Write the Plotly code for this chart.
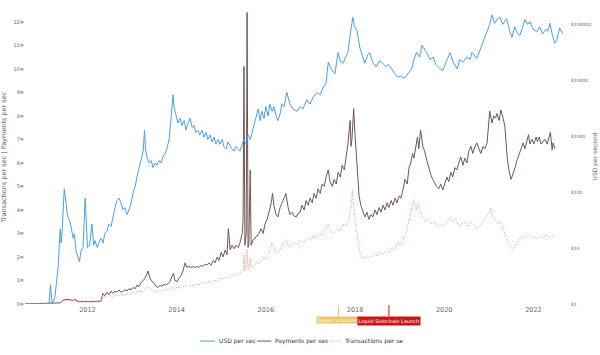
import plotly.graph_objects as go

# ---------------- data ----------------
usd_years = [2010.53, 2010.83, 2011.14, 2011.17, 2011.21, 2011.27, 2011.34, 2011.39, 2011.41, 2011.43,
             2011.48, 2011.52, 2011.55, 2011.59, 2011.62, 2011.68, 2011.71, 2011.74, 2011.79, 2011.82,
             2011.86, 2011.90, 2011.95, 2011.97, 2012.00, 2012.05, 2012.08, 2012.10, 2012.14, 2012.17,
             2012.22, 2012.26, 2012.30, 2012.35, 2012.39, 2012.44, 2012.48, 2012.53, 2012.57, 2012.62,
             2012.66, 2012.71, 2012.75, 2012.80, 2012.84, 2012.89, 2012.93, 2012.98, 2013.02, 2013.07,
             2013.11, 2013.16, 2013.20, 2013.25, 2013.28, 2013.30, 2013.34, 2013.38, 2013.43, 2013.47,
             2013.52, 2013.56, 2013.61, 2013.65, 2013.70, 2013.74, 2013.78, 2013.83, 2013.87, 2013.92,
             2013.94, 2013.99, 2014.03, 2014.08, 2014.12, 2014.17, 2014.21, 2014.26, 2014.30, 2014.35,
             2014.39, 2014.43, 2014.48, 2014.52, 2014.57, 2014.61, 2014.66, 2014.70, 2014.75, 2014.79,
             2014.84, 2014.88, 2014.93, 2014.97, 2015.02, 2015.06, 2015.11, 2015.15, 2015.20, 2015.24,
             2015.29, 2015.33, 2015.38, 2015.42, 2015.47, 2015.51, 2015.56, 2015.60, 2015.65, 2015.69,
             2015.74, 2015.78, 2015.83, 2015.87, 2015.91, 2015.96, 2016.00, 2016.05, 2016.09, 2016.14,
             2016.18, 2016.23, 2016.27, 2016.32, 2016.36, 2016.41, 2016.47, 2016.54, 2016.61, 2016.70,
             2016.77, 2016.83, 2016.92, 2016.99, 2017.06, 2017.15, 2017.22, 2017.28, 2017.35, 2017.40,
             2017.46, 2017.55, 2017.62, 2017.68, 2017.73, 2017.79, 2017.84, 2017.88, 2017.95, 2017.99,
             2018.04, 2018.11, 2018.17, 2018.22, 2018.28, 2018.33, 2018.39, 2018.48, 2018.55, 2018.62,
             2018.69, 2018.75, 2018.82, 2018.89, 2018.96, 2019.02, 2019.11, 2019.18, 2019.27, 2019.32,
             2019.38, 2019.45, 2019.50, 2019.57, 2019.61, 2019.68, 2019.75, 2019.81, 2019.91, 2019.97,
             2020.04, 2020.13, 2020.20, 2020.29, 2020.35, 2020.42, 2020.51, 2020.58, 2020.62, 2020.69,
             2020.73, 2020.80, 2020.87, 2020.93, 2020.98, 2021.02, 2021.07, 2021.13, 2021.20, 2021.25,
             2021.31, 2021.40, 2021.47, 2021.52, 2021.58, 2021.65, 2021.70, 2021.76, 2021.81, 2021.87,
             2021.92, 2021.99, 2022.08, 2022.14, 2022.21, 2022.28, 2022.32, 2022.37, 2022.43, 2022.48,
             2022.52, 2022.59, 2022.66]
usd_per_sec = [1.0, 1.0, 1.0, 2.2, 1.0, 1.3, 4.3, 22, 12.3, 18,
               114, 64, 39, 32, 27, 15, 18, 9.2, 6.9, 5.7,
               9.2, 10.2, 78, 32, 10.2, 11.2, 18, 27, 11.2, 13.6,
               10.2, 12.3, 15, 12.3, 18.2, 20, 26.7, 24.3, 35.7, 52.5,
               70, 78, 64, 48, 52.5, 39.4, 48, 64, 94, 126,
               185, 272, 400, 537, 1274, 589, 400, 331, 365, 272,
               331, 300, 365, 331, 440, 485, 589, 870, 1876, 5430,
               3350, 2275, 1700, 2065, 1545, 1876, 1274, 1700, 2065, 1413,
               1545, 1156, 1274, 1050, 1274, 953, 1156, 870, 1050, 785,
               953, 713, 870, 713, 870, 648, 589, 785, 648, 589,
               537, 648, 589, 537, 713, 870, 713, 1050, 870, 1156,
               1545, 2275, 3040, 1876, 2760, 2065, 3350, 2275, 3715, 2760,
               3350, 2275, 1876, 2506, 3715, 3350, 6025, 3715, 3040, 2760,
               3350, 3040, 4470, 3715, 4920, 6025, 5430, 7250, 8790, 20900,
               15850, 12940, 30900, 20900, 19950, 25700, 30900, 55100, 131500, 89300,
               77300, 37400, 25700, 19950, 28000, 30900, 20900, 17300, 22000, 19950,
               17300, 19000, 15850, 12940, 11200, 11750, 10700, 12940, 15850, 23100,
               30900, 25700, 41700, 34000, 30900, 23100, 25700, 19000, 15850, 15000,
               20900, 30900, 20900, 15850, 23100, 20900, 25700, 23100, 30900, 25700,
               24300, 34000, 47700, 60700, 77300, 98400, 145000, 103000, 125000, 131500,
               98400, 125000, 73600, 57800, 89300, 66800, 63700, 89300, 119400, 98400,
               109600, 81100, 73600, 89300, 66800, 81100, 73600, 103000, 60700, 45500,
               50100, 85100, 66800]

pay_years = [2010.53, 2011.27, 2011.39, 2011.45, 2011.52, 2011.61, 2011.68, 2011.72, 2011.77, 2011.88,
             2012.06, 2012.24, 2012.30, 2012.35, 2012.39, 2012.44, 2012.48, 2012.53, 2012.57, 2012.62,
             2012.66, 2012.71, 2012.75, 2012.80, 2012.84, 2012.89, 2012.93, 2012.98, 2013.02, 2013.07,
             2013.11, 2013.16, 2013.20, 2013.25, 2013.29, 2013.34, 2013.36, 2013.40, 2013.45, 2013.49,
             2013.54, 2013.58, 2013.63, 2013.67, 2013.72, 2013.76, 2013.81, 2013.85, 2013.90, 2013.93,
             2013.96, 2014.01, 2014.05, 2014.10, 2014.14, 2014.19, 2014.23, 2014.28, 2014.32, 2014.37,
             2014.41, 2014.46, 2014.50, 2014.55, 2014.59, 2014.64, 2014.68, 2014.73, 2014.77, 2014.82,
             2014.86, 2014.91, 2014.95, 2015.00, 2015.04, 2015.09, 2015.13, 2015.16, 2015.20, 2015.24,
             2015.29, 2015.33, 2015.38, 2015.42, 2015.47, 2015.49, 2015.51, 2015.53, 2015.56, 2015.58,
             2015.60, 2015.62, 2015.65, 2015.67, 2015.71, 2015.76, 2015.80, 2015.85, 2015.89, 2015.94,
             2015.98, 2016.03, 2016.07, 2016.12, 2016.15, 2016.18, 2016.23, 2016.27, 2016.32, 2016.36,
             2016.41, 2016.45, 2016.50, 2016.54, 2016.59, 2016.63, 2016.68, 2016.72, 2016.77, 2016.81,
             2016.86, 2016.90, 2016.95, 2016.99, 2017.04, 2017.08, 2017.13, 2017.17, 2017.22, 2017.26,
             2017.31, 2017.35, 2017.40, 2017.44, 2017.49, 2017.53, 2017.58, 2017.62, 2017.67, 2017.71,
             2017.76, 2017.80, 2017.84, 2017.89, 2017.91, 2017.93, 2017.97, 2018.00, 2018.05, 2018.09,
             2018.13, 2018.18, 2018.22, 2018.27, 2018.31, 2018.36, 2018.40, 2018.45, 2018.49, 2018.54,
             2018.58, 2018.63, 2018.67, 2018.72, 2018.76, 2018.81, 2018.85, 2018.90, 2018.94, 2018.99,
             2019.03, 2019.08, 2019.12, 2019.17, 2019.21, 2019.25, 2019.29, 2019.32, 2019.37, 2019.40,
             2019.43, 2019.47, 2019.52, 2019.56, 2019.61, 2019.65, 2019.70, 2019.74, 2019.79, 2019.83,
             2019.88, 2019.92, 2019.97, 2020.01, 2020.06, 2020.10, 2020.15, 2020.19, 2020.24, 2020.28,
             2020.33, 2020.37, 2020.42, 2020.46, 2020.51, 2020.55, 2020.60, 2020.64, 2020.69, 2020.73,
             2020.78, 2020.82, 2020.87, 2020.91, 2020.96, 2021.00, 2021.02, 2021.07, 2021.11, 2021.15,
             2021.18, 2021.23, 2021.27, 2021.32, 2021.36, 2021.41, 2021.45, 2021.50, 2021.54, 2021.59,
             2021.63, 2021.68, 2021.72, 2021.77, 2021.81, 2021.86, 2021.89, 2021.92, 2021.97, 2022.01,
             2022.06, 2022.09, 2022.13, 2022.17, 2022.22, 2022.26, 2022.31, 2022.35, 2022.38, 2022.42,
             2022.44, 2022.48]
payments_per_sec = [0.0, 0.02, 0.05, 0.15, 0.2, 0.18, 0.15, 0.22, 0.12, 0.1,
                    0.1, 0.1, 0.12, 0.45, 0.35, 0.5, 0.4, 0.55, 0.45, 0.55,
                    0.5, 0.6, 0.5, 0.55, 0.6, 0.55, 0.65, 0.6, 0.7, 0.65,
                    0.8, 0.75, 0.9, 1.0, 1.1, 1.3, 1.4, 1.1, 0.95, 0.9,
                    0.75, 0.7, 0.8, 0.75, 0.85, 0.8, 0.9, 0.95, 1.2, 1.3,
                    1.0, 0.95, 1.1, 1.2, 1.4, 1.75, 1.55, 1.6, 1.55, 1.6,
                    1.55, 1.6, 1.55, 1.65, 1.6, 1.7, 1.65, 1.75, 1.65, 1.85,
                    1.75, 2.0, 1.85, 2.2, 2.0, 2.3, 2.1, 3.2, 2.3, 2.5,
                    2.35, 2.5, 2.4, 2.6, 3.0, 3.6, 10.1, 2.5, 3.0, 12.4,
                    2.4, 2.6, 5.7, 2.5, 2.7, 2.8, 2.9, 3.0, 3.2, 3.0,
                    3.4, 3.6, 3.9, 4.3, 4.7, 4.2, 3.8, 3.7, 4.1, 4.3,
                    4.5, 4.7, 4.1, 3.8, 3.9, 3.75, 3.7, 3.85, 3.9, 4.2,
                    4.0, 4.4, 4.2, 4.5, 4.3, 4.7, 4.5, 4.9, 4.7, 5.1,
                    5.0, 5.4, 5.7, 5.2, 5.0, 5.3, 5.1, 5.6, 5.4, 5.9,
                    5.7, 6.2, 6.8, 7.8, 6.7, 7.0, 8.3, 7.2, 5.6, 4.6,
                    4.2, 3.9, 3.7, 3.9, 3.6, 3.8, 3.7, 4.0, 3.8, 4.1,
                    3.9, 4.2, 4.0, 4.3, 4.1, 4.4, 4.2, 4.5, 4.3, 4.6,
                    4.5, 4.9, 5.3, 5.1, 5.8, 6.0, 6.4, 6.2, 6.9, 7.1,
                    6.6, 7.4, 6.7, 6.5, 6.1, 5.8, 5.5, 5.3, 5.1, 5.0,
                    4.9, 5.1, 4.85, 5.1, 5.4, 5.2, 5.6, 5.4, 5.8, 5.7,
                    6.0, 6.25, 5.9, 6.2, 6.0, 6.5, 6.7, 6.4, 6.7, 6.85,
                    6.6, 6.4, 6.7, 6.6, 6.85, 7.6, 8.2, 7.7, 8.0, 7.9,
                    8.1, 7.8, 8.25, 7.9, 7.55, 6.25, 5.7, 5.3, 5.5, 5.8,
                    6.1, 6.4, 6.6, 6.85, 6.6, 7.0, 7.2, 6.8, 7.0, 6.8,
                    7.1, 6.9, 7.1, 6.8, 6.9, 7.0, 6.8, 7.1, 7.3, 6.55,
                    6.85, 6.6]

tx_years = [2010.53, 2011.39, 2011.45, 2011.61, 2011.77, 2012.06, 2012.30, 2012.35, 2012.42, 2012.48,
            2012.55, 2012.62, 2012.69, 2012.75, 2012.82, 2012.89, 2012.96, 2013.02, 2013.09, 2013.16,
            2013.22, 2013.29, 2013.36, 2013.43, 2013.49, 2013.56, 2013.63, 2013.70, 2013.76, 2013.83,
            2013.90, 2013.96, 2014.03, 2014.10, 2014.17, 2014.23, 2014.30, 2014.37, 2014.43, 2014.50,
            2014.57, 2014.64, 2014.70, 2014.77, 2014.84, 2014.91, 2014.97, 2015.04, 2015.11, 2015.17,
            2015.24, 2015.31, 2015.38, 2015.44, 2015.49, 2015.51, 2015.53, 2015.58, 2015.60, 2015.65,
            2015.67, 2015.74, 2015.80, 2015.87, 2015.94, 2016.00, 2016.07, 2016.14, 2016.20, 2016.27,
            2016.34, 2016.41, 2016.45, 2016.52, 2016.59, 2016.65, 2016.72, 2016.79, 2016.86, 2016.92,
            2016.99, 2017.06, 2017.13, 2017.20, 2017.26, 2017.33, 2017.40, 2017.46, 2017.53, 2017.60,
            2017.67, 2017.73, 2017.80, 2017.87, 2017.91, 2017.94, 2017.98, 2018.02, 2018.07, 2018.11,
            2018.16, 2018.22, 2018.29, 2018.36, 2018.43, 2018.49, 2018.56, 2018.63, 2018.70, 2018.76,
            2018.83, 2018.90, 2018.96, 2019.03, 2019.10, 2019.17, 2019.23, 2019.28, 2019.32, 2019.37,
            2019.41, 2019.46, 2019.52, 2019.59, 2019.65, 2019.72, 2019.79, 2019.86, 2019.92, 2019.99,
            2020.06, 2020.13, 2020.19, 2020.26, 2020.33, 2020.39, 2020.46, 2020.53, 2020.60, 2020.66,
            2020.73, 2020.80, 2020.87, 2020.93, 2021.00, 2021.04, 2021.07, 2021.14, 2021.20, 2021.27,
            2021.34, 2021.41, 2021.47, 2021.54, 2021.61, 2021.68, 2021.74, 2021.81, 2021.88, 2021.95,
            2022.01, 2022.08, 2022.15, 2022.22, 2022.28, 2022.35, 2022.42, 2022.48]
transactions_per_sec = [0.0, 0.03, 0.12, 0.15, 0.1, 0.08, 0.1, 0.35, 0.28, 0.38,
                        0.3, 0.4, 0.33, 0.42, 0.36, 0.45, 0.4, 0.5, 0.45, 0.55,
                        0.5, 0.65, 0.72, 0.6, 0.55, 0.5, 0.6, 0.55, 0.62, 0.6,
                        0.7, 0.65, 0.72, 0.68, 0.78, 0.75, 0.8, 0.78, 0.85, 0.82,
                        0.9, 0.88, 0.95, 0.92, 1.0, 0.98, 1.1, 1.05, 1.15, 1.1,
                        1.25, 1.2, 1.3, 1.35, 1.5, 2.1, 1.4, 2.3, 1.45, 1.9,
                        1.5, 1.6, 1.8, 1.7, 2.0, 1.9, 2.2, 2.6, 2.3, 2.2,
                        2.4, 2.6, 2.75, 2.4, 2.5, 2.6, 2.55, 2.7, 2.6, 2.8,
                        2.7, 2.9, 2.8, 3.0, 2.9, 3.2, 3.4, 3.1, 3.0, 3.2,
                        3.1, 3.4, 3.3, 3.6, 4.2, 4.85, 3.9, 3.2, 2.6, 2.2,
                        2.0, 1.95, 2.05, 2.0, 2.1, 2.05, 2.2, 2.1, 2.3, 2.2,
                        2.4, 2.3, 2.6, 2.5, 2.9, 3.2, 3.7, 4.2, 4.4, 4.0,
                        4.3, 3.9, 3.7, 3.5, 3.6, 3.4, 3.5, 3.3, 3.4, 3.3,
                        3.5, 3.7, 3.5, 3.6, 3.3, 3.4, 3.5, 3.3, 3.5, 3.4,
                        3.2, 3.3, 3.5, 3.7, 3.9, 4.1, 3.8, 3.6, 3.4, 3.5,
                        3.1, 2.7, 2.5, 2.3, 2.5, 2.7, 2.9, 2.8, 2.95, 2.8,
                        2.9, 2.75, 2.9, 2.8, 2.95, 2.8, 2.9, 2.85]

year_ticks = [2012, 2014, 2016, 2018, 2020, 2022]
left_ticks = list(range(0, 13))
usd_ticks = [1, 10, 100, 1000, 10000, 100000]
usd_tick_labels = ["$1", "$10", "$100", "$1000", "$10000", "$100000"]

event_names = ["Segwit activation", "Liquid Sidechain Launch"]
event_years = [2017.63, 2018.76]
event_colors = ["#f2c26a", "#cc1414"]

series_names = ["USD per sec", "Payments per sec", "Transactions per sec"]
series_colors = ["#4a9fea", "#6f5753", "#e8937a"]
series_dash = ["solid", "solid", "1px,1.5px"]

FONT = "DejaVu Sans"

fig = go.Figure()
fig.add_trace(go.Scatter(x=usd_years, y=usd_per_sec, name=series_names[0], yaxis="y2",
                         mode="lines", line=dict(color=series_colors[0], width=1)))
fig.add_trace(go.Scatter(x=pay_years, y=payments_per_sec, name=series_names[1],
                         mode="lines", line=dict(color=series_colors[1], width=1)))
fig.add_trace(go.Scatter(x=tx_years, y=transactions_per_sec, name=series_names[2],
                         mode="lines", line=dict(color=series_colors[2], width=1, dash=series_dash[2])))

shapes = []
annotations = []
# event flags below the x axis
for name, yr, col in zip(event_names, event_years, event_colors):
    shapes.append(dict(type="line", xref="x", yref="paper", x0=yr, x1=yr, y0=-0.004, y1=-0.041,
                       line=dict(color=col, width=1)))
# Segwit label ends where the Liquid label begins (the original overlaps them)
annotations.append(dict(x=event_years[1], y=-0.041, xref="x", yref="paper", xanchor="right",
                        yanchor="top", xshift=-30, text=event_names[0], showarrow=False,
                        bgcolor=event_colors[0], borderpad=0.5,
                        font=dict(family=FONT, size=4.6, color="white")))
annotations.append(dict(x=event_years[1], y=-0.041, xref="x", yref="paper", xanchor="center",
                        yanchor="top", text=event_names[1], showarrow=False,
                        bgcolor=event_colors[1], borderpad=0.5,
                        font=dict(family=FONT, size=5, color="white")))

# compact legend like the original
leg_y = -0.126
leg_items = [(0.321, 0.349, 0.353), (0.426, 0.452, 0.455), (0.554, 0.578, 0.582)]
for (x0, x1, xt), name, col, dash in zip(leg_items, series_names, series_colors, series_dash):
    shapes.append(dict(type="line", xref="paper", yref="paper", x0=x0, x1=x1, y0=leg_y, y1=leg_y,
                       line=dict(color=col, width=1, dash=dash)))
    label = name if name != "Transactions per sec" else "Transactions per se"
    annotations.append(dict(x=xt, y=leg_y, xref="paper", yref="paper", xanchor="left", yanchor="middle",
                            text=label, showarrow=False, font=dict(family=FONT, size=6, color="#333")))

# right axis title, placed at the far right edge like the original
annotations.append(dict(x=1.0, y=0.5, xref="paper", yref="paper", xanchor="center", yanchor="middle",
                        xshift=24.5, textangle=-90, text="USD per second", showarrow=False,
                        font=dict(family=FONT, size=6, color="#666")))

fig.update_layout(
    width=600, height=355,
    margin=dict(l=25, r=30, t=10, b=51, autoexpand=False),
    paper_bgcolor="white", plot_bgcolor="white",
    showlegend=False,
    font=dict(family=FONT, size=6, color="#666"),
    xaxis=dict(range=[2010.60, 2022.82], tickvals=year_ticks, ticktext=[str(y) for y in year_ticks],
               showgrid=False, zeroline=False, showline=False, ticks="", automargin=False,
               tickfont=dict(family=FONT, size=6.5, color="#666")),
    yaxis=dict(range=[0, 12.5], tickvals=left_ticks, ticktext=[f"{v}\u2261" for v in left_ticks],
               showgrid=False, zeroline=False, showline=False, ticks="", automargin=False,
               tickfont=dict(family=FONT, size=5, color="#666"),
               title=dict(text="Transactions per sec | Payments per sec",
                          font=dict(family=FONT, size=6.5, color="#666"), standoff=6)),
    yaxis2=dict(type="log", range=[0, 5.25], overlaying="y", side="right",
                tickvals=usd_ticks, ticktext=usd_tick_labels, automargin=False,
                showgrid=False, zeroline=False, showline=False, ticks="",
                tickfont=dict(family=FONT, size=4.5, color="#666")),
    shapes=shapes,
    annotations=annotations,
)

fig.write_html("out.html", config={"displayModeBar": False},
               post_script="document.body.style.margin='0';")
